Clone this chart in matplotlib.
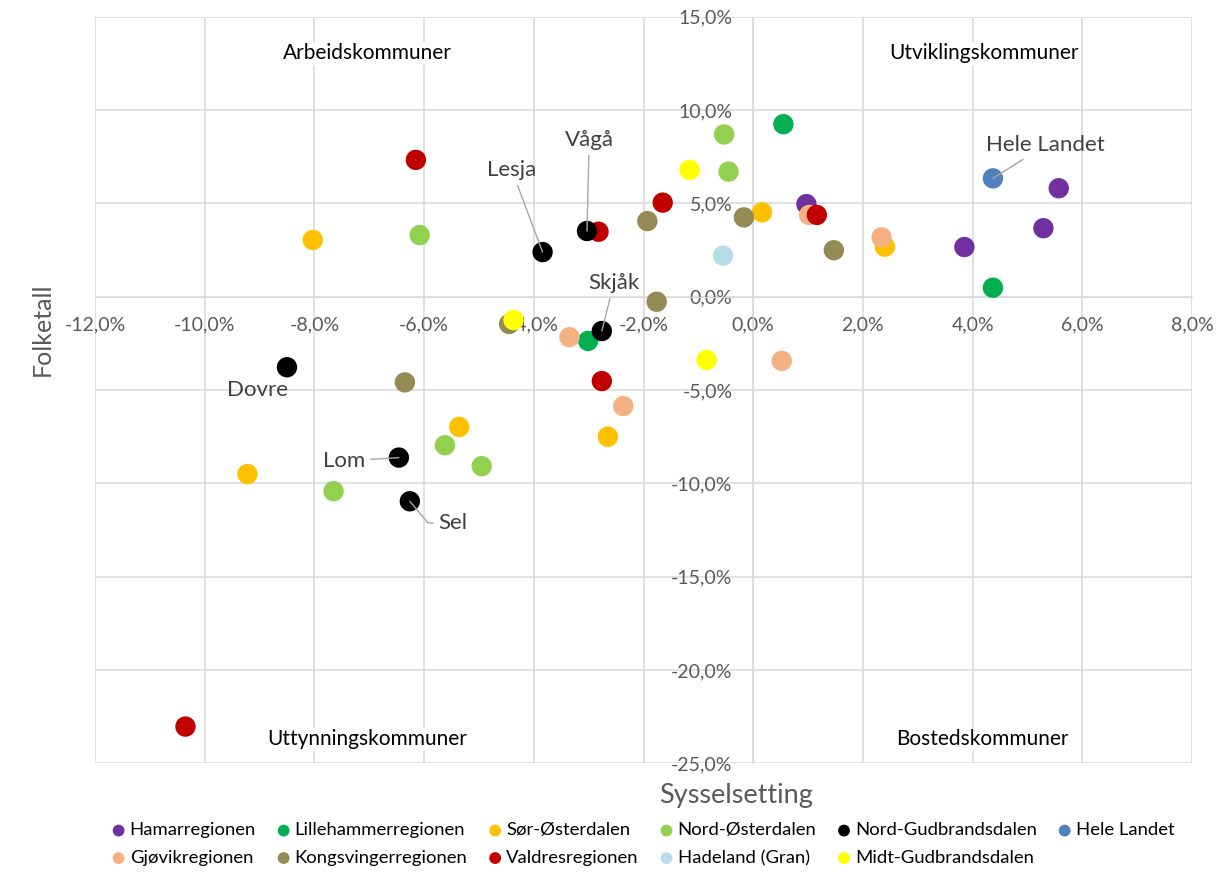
import numpy as np
import matplotlib
matplotlib.use('Agg')
import matplotlib.pyplot as plt
from matplotlib.ticker import FuncFormatter

plt.rcParams['font.family'] = ['Lato', 'DejaVu Sans']

# regions (legend order) and colours
regions = ['Hamarregionen', 'Lillehammerregionen', 'Sør-Østerdalen', 'Nord-Østerdalen',
           'Nord-Gudbrandsdalen', 'Hele Landet', 'Gjøvikregionen', 'Kongsvingerregionen',
           'Valdresregionen', 'Hadeland (Gran)', 'Midt-Gudbrandsdalen']
colors = ['#7030A0', '#00B050', '#FFC000', '#92D050', '#000000', '#4F81BD',
          '#F4B183', '#948A54', '#C00000', '#B7DEE8', '#FFFF00']

# sysselsetting (x) and folketall (y) change, in percent
hamar_x = [0.97, 3.85, 5.29, 5.57]
hamar_y = [4.96, 2.66, 3.67, 5.81]
lillehammer_x = [0.55, 4.37, -3.01]
lillehammer_y = [9.24, 0.48, -2.37]
sorost_x = [-8.03, 0.16, 2.40, -5.36, -2.65, -9.22]
sorost_y = [3.04, 4.52, 2.68, -6.98, -7.50, -9.50]
nordost_x = [-0.53, -0.45, -6.08, -5.62, -4.95, -7.65]
nordost_y = [8.69, 6.70, 3.30, -7.96, -9.08, -10.42]
nordgud_names = ['Lesja', 'Vågå', 'Skjåk', 'Dovre', 'Lom', 'Sel']
nordgud_x = [-3.84, -3.03, -2.76, -8.50, -6.46, -6.26]
nordgud_y = [2.39, 3.52, -1.84, -3.78, -8.62, -10.96]
landet_x = [4.37]
landet_y = [6.34]
gjovik_x = [-3.35, -2.37, 0.52, 2.34, 1.02]
gjovik_y = [-2.17, -5.86, -3.44, 3.18, 4.38]
kongsv_x = [-1.93, -0.17, 1.47, -1.76, -4.45, -6.35]
kongsv_y = [4.05, 4.25, 2.49, -0.27, -1.46, -4.59]
valdres_x = [-6.15, -1.65, -2.82, 1.16, -2.76, -10.35]
valdres_y = [7.33, 5.04, 3.48, 4.38, -4.52, -23.03]
hadeland_x = [-0.55]
hadeland_y = [2.20]
midt_x = [-1.16, -4.37, -0.85]
midt_y = [6.79, -1.25, -3.39]

xs = [hamar_x, lillehammer_x, sorost_x, nordost_x, nordgud_x, landet_x,
      gjovik_x, kongsv_x, valdres_x, hadeland_x, midt_x]
ys = [hamar_y, lillehammer_y, sorost_y, nordost_y, nordgud_y, landet_y,
      gjovik_y, kongsv_y, valdres_y, hadeland_y, midt_y]

fig = plt.figure(figsize=(12.16, 8.84), dpi=100)
ax = fig.add_axes([0.0781, 0.1365, 0.9022, 0.8446])

handles = []
for i in range(len(regions)):
    z = 4 if regions[i] == 'Nord-Gudbrandsdalen' else 3
    h = ax.scatter(xs[i], ys[i], s=215, color=colors[i], edgecolors='none',
                   label=regions[i], zorder=z)
    handles.append(h)

ax.set_xlim(-12, 8)
ax.set_ylim(-25, 15)
ax.set_xticks(np.arange(-12, 8.1, 2))
ax.set_yticks(np.arange(-25, 15.1, 5))
pct = FuncFormatter(lambda v, p: ('%.1f%%' % v).replace('.', ','))
ax.xaxis.set_major_formatter(pct)
ax.yaxis.set_major_formatter(pct)
ax.grid(True, color='#D9D9D9', lw=1.1, zorder=0)
ax.set_axisbelow(True)

for s in ['top', 'right']:
    ax.spines[s].set_visible(False)
ax.spines['left'].set_position(('data', 0))
ax.spines['bottom'].set_position(('data', 0))
ax.spines['left'].set_color('#D9D9D9')
ax.spines['bottom'].set_color('#D9D9D9')
ax.tick_params(length=0, labelsize=14, labelcolor='#595959')
ax.tick_params(axis='x', pad=14)
ax.tick_params(axis='y', pad=15)

fig.text(0.605, 0.1, 'Sysselsetting', ha='center', va='center', fontsize=19.5, color='#595959')
fig.text(0.035, 0.627, 'Folketall', ha='center', va='center', rotation=90,
         fontsize=18, color='#595959')

# quadrant labels
box = dict(facecolor='white', edgecolor='none', pad=1)
qfs = 15
ax.text(-7.04, 13.05, 'Arbeidskommuner', ha='center', va='center', fontsize=qfs, bbox=box)
ax.text(4.20, 13.05, 'Utviklingskommuner', ha='center', va='center', fontsize=qfs, bbox=box)
ax.text(-7.03, -23.7, 'Uttynningskommuner', ha='center', va='center', fontsize=qfs, bbox=box)
ax.text(4.18, -23.7, 'Bostedskommuner', ha='center', va='center', fontsize=qfs, bbox=box)

# point labels
lab_pos = {'Lesja': (-4.40, 6.78), 'Vågå': (-2.99, 8.39), 'Skjåk': (-2.54, 0.73),
           'Dovre': (-9.03, -5.0), 'Lom': (-7.46, -8.8), 'Sel': (-5.47, -12.12)}
line = dict(arrowstyle='-', color='#A6A6A6', lw=1, shrinkA=2, shrinkB=0)
for name, px, py in zip(nordgud_names, nordgud_x, nordgud_y):
    tx, ty = lab_pos[name]
    ap = None if name == 'Dovre' else line
    if name == 'Sel':
        ap = dict(line, connectionstyle='angle,angleA=0,angleB=-50,rad=0')
    ax.annotate(name, xy=(px, py), xytext=(tx, ty), ha='center', va='center',
                fontsize=16, color='#404040', arrowprops=ap, zorder=5)
ax.annotate('Hele Landet', xy=(landet_x[0], landet_y[0]), xytext=(5.33, 8.12),
            ha='center', va='center', fontsize=16, color='#404040', arrowprops=line, zorder=5)

# legend in row-major order
top = handles[:6]
bot = handles[6:]
order = []
for i in range(6):
    order.append(top[i])
    if i < len(bot):
        order.append(bot[i])
leg = fig.legend(handles=order, labels=[h.get_label() for h in order], loc='center',
                 bbox_to_anchor=(0.529, 0.045), ncol=6, frameon=False, fontsize=13.3,
                 markerscale=0.58, handletextpad=0.25, columnspacing=1.15,
                 labelspacing=0.62, handlelength=0.7)

fig.savefig('out.png', dpi=100)
